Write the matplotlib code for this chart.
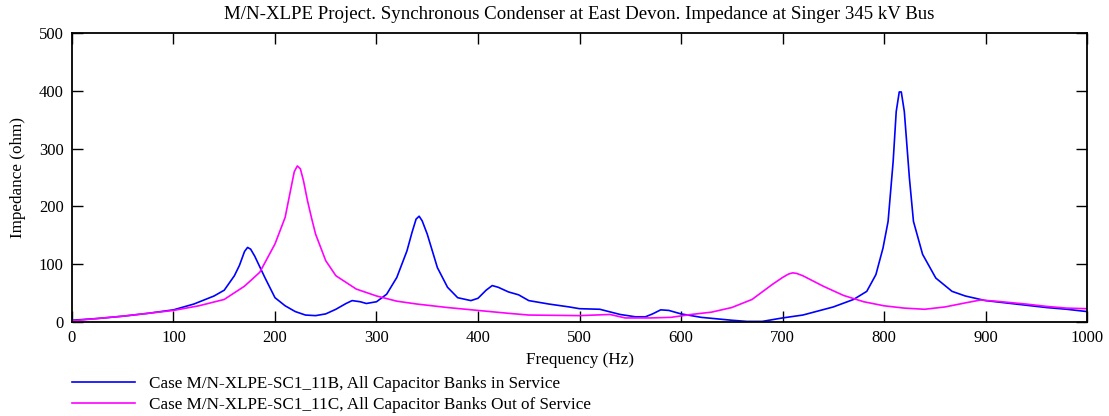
import matplotlib
matplotlib.use('Agg')
import matplotlib.pyplot as plt

# frequency (Hz) / impedance (ohm)
freq_b = [0, 25, 50, 75, 100, 120, 140, 150, 160, 165, 170, 173, 176, 180, 190, 200, 210, 220, 230,
          240, 250, 260, 270, 276, 284, 290, 300, 310, 320, 330, 335, 339, 342, 345, 350, 360, 370,
          380, 393, 400, 408, 414, 420, 430, 440, 450, 470, 490, 500, 520, 540, 555, 565,
          572, 580, 588, 600, 620, 650, 665, 680, 700, 720, 750, 770, 783, 792, 799, 804,
          809, 812, 815, 817, 820, 825, 829, 838, 851, 867, 880, 900, 920, 940, 960, 980, 1000]
imp_b = [3, 6, 10, 15, 21, 31, 45, 55, 80, 98, 122, 129, 126, 114, 77, 42, 28, 18, 12,
         11, 14, 22, 32, 37, 35, 32, 35, 48, 77, 123, 155, 178, 183, 175, 152, 94, 60,
         42, 37, 41, 55, 63, 60, 52, 47, 37, 31, 26, 23, 22, 13, 9, 9,
         14, 21, 20, 14, 8, 3, 1, 1, 7, 12, 26, 39, 53, 82, 128, 174,
         278, 364, 398, 398, 364, 249, 174, 117, 76, 53, 45, 37, 33, 29, 25, 22, 18]

freq_c = [0, 25, 50, 75, 100, 125, 150, 170, 185, 200, 210, 215, 219, 222, 225, 228, 232,
          236, 240, 250, 260, 280, 300, 320, 340, 370, 400, 430, 450, 500, 530, 545, 570,
          590, 610, 630, 650, 670, 690, 700, 706, 710, 714, 720, 740, 760, 780, 800, 820, 840, 860,
          880, 895, 910, 940, 960, 980, 1000]
imp_c = [2, 6, 10, 15, 20, 28, 39, 62, 86, 135, 181, 225, 260, 270, 265, 245, 210,
         180, 152, 106, 80, 57, 45, 36, 31, 25, 20, 15, 12, 11, 13, 7, 7,
         8, 13, 17, 25, 39, 65, 77, 83, 85, 84, 80, 62, 46, 35, 28, 24, 22, 26,
         33, 38, 36, 31, 27, 24, 23]

label_b = 'Case M/N-XLPE-SC1_11B, All Capacitor Banks in Service'
label_c = 'Case M/N-XLPE-SC1_11C, All Capacitor Banks Out of Service'

plt.rcParams['font.family'] = ['Liberation Serif', 'DejaVu Serif']
plt.rcParams['font.size'] = 12

fig = plt.figure(figsize=(11.09, 4.16), dpi=100)
ax = fig.add_axes([0.0649, 0.226, 0.9153, 0.6947])

ax.plot(freq_b, imp_b, color='#0000ff', lw=1.2, label=label_b)
ax.plot(freq_c, imp_c, color='#ff00ff', lw=1.2, label=label_c)

ax.set_xlim(0, 1000)
ax.set_ylim(0, 500)
ax.set_xticks(range(0, 1001, 100))
ax.set_yticks(range(0, 501, 100))
ax.tick_params(direction='in', length=8, width=1, top=True, right=True, labelsize=12, pad=6)
for s in ax.spines.values():
    s.set_linewidth(1.3)

ax.set_title('M/N-XLPE Project. Synchronous Condenser at East Devon. Impedance at Singer 345 kV Bus',
             fontsize=13.6, pad=10)
ax.set_xlabel('Frequency (Hz)', fontsize=12.3, labelpad=4)
ax.set_ylabel('Impedance (ohm)', fontsize=12.3, labelpad=9)

fig.legend(loc='upper left', bbox_to_anchor=(0.059, 0.113), frameon=False, fontsize=12.3,
           handlelength=3.7, handletextpad=0.8, labelspacing=0.32, borderaxespad=0)

fig.savefig('out.png', dpi=100)
